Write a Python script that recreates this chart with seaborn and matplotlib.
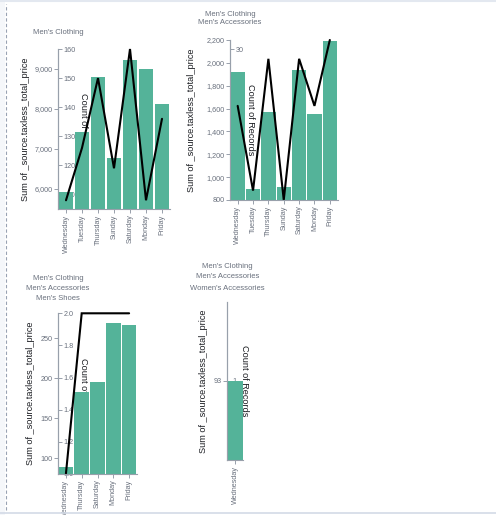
import numpy as np
import pandas as pd
import seaborn as sns
import matplotlib.pyplot as plt
from matplotlib.ticker import FixedLocator, FuncFormatter
from matplotlib.lines import Line2D
from matplotlib.patches import Rectangle

# ---- data ----
days_1 = ['Wednesday', 'Tuesday', 'Thursday', 'Sunday', 'Saturday', 'Monday', 'Friday']
sum_1 = [5930, 7430, 8810, 6780, 9225, 9000, 8120]
count_1 = [108, 126, 150, 119, 160, 108, 136]
title_1 = ["Men's Clothing"]

days_2 = ['Wednesday', 'Tuesday', 'Thursday', 'Sunday', 'Saturday', 'Monday', 'Friday']
sum_2 = [1924, 899, 1568, 916, 1939, 1553, 2191]
count_2 = [24, 15, 29, 14, 29, 24, 31]
title_2 = ["Men's Clothing", "Men's Accessories"]

days_3 = ['Wednesday', 'Thursday', 'Saturday', 'Monday', 'Friday']
sum_3 = [89, 182, 195, 269, 266]
count_3 = [1, 2, 2, 2, 2]
title_3 = ["Men's Clothing", "Men's Accessories", "Men's Shoes"]

days_4 = ['Wednesday']
sum_4 = [93]
count_4 = [1]
title_4 = ["Men's Clothing", "Men's Accessories", "Women's Accessories"]

sum_label = 'Sum of _source.taxless_total_price'
count_label = 'Count of Records'

W, H = 496, 515
GREEN = '#54b399'
AXIS = '#98a0ab'
TICKTXT = '#69707d'

sns.set_theme(style='white')
plt.rcParams['font.family'] = ['Liberation Sans', 'DejaVu Sans']

fig = plt.figure(figsize=(W / 100, H / 100), dpi=100)


def comma(v, pos):
    return '{:,.0f}'.format(v)


def draw_panel(box, days, sums, counts, title, title_ys,
               sum_lim, sum_ticks, cnt_lim, cnt_ticks, cnt_fmt,
               left_off, right_off):
    l, t, r, b = box
    w = r - l
    ax = fig.add_axes([l / W, 1 - b / H, w / W, (b - t) / H])
    ax2 = ax.twinx()
    ax.set_zorder(ax2.get_zorder() + 1)
    ax.patch.set_visible(False)

    df = pd.DataFrame({'day': days, 'sum': sums})
    sns.barplot(data=df, x='day', y='sum', ax=ax, color=GREEN,
                saturation=1, width=0.93, edgecolor='none')
    sns.lineplot(x=np.arange(len(days)), y=counts, ax=ax,
                 transform=ax2.transData, color='black', lw=1.5,
                 solid_joinstyle='miter', clip_on=False)

    ax.set_xlim(-0.5, len(days) - 0.5)
    ax.set_ylim(*sum_lim)
    ax2.set_ylim(*cnt_lim)

    # sum axis
    for s in ['top', 'right']:
        ax.spines[s].set_visible(False)
    for s in ['left', 'bottom']:
        ax.spines[s].set_color(AXIS)
        ax.spines[s].set_linewidth(0.8)
    ax.yaxis.set_major_locator(FixedLocator(sum_ticks))
    ax.yaxis.set_major_formatter(FuncFormatter(comma))
    ax.tick_params(axis='y', left=True, length=3, width=0.7, color=AXIS,
                   labelsize=5.2, labelcolor=TICKTXT, pad=1)
    ax.set_xticks(np.arange(len(days)))
    ax.set_xticklabels(days, rotation=90)
    ax.tick_params(axis='x', bottom=True, length=3, width=0.7, color=AXIS,
                   labelsize=5.2, labelcolor=TICKTXT, pad=1)
    ax.set_xlabel('')
    ax.set_ylabel(sum_label, fontsize=6.6, color='#1a1c21')
    ax.yaxis.set_label_coords(-left_off / w, 0.5)

    # count axis, drawn on the left edge beneath the bars
    for s in ['top', 'left', 'bottom']:
        ax2.spines[s].set_visible(False)
    ax2.spines['right'].set_position(('axes', 0))
    ax2.spines['right'].set_color(AXIS)
    ax2.spines['right'].set_linewidth(0.8)
    ax2.yaxis.set_major_locator(FixedLocator(cnt_ticks))
    ax2.yaxis.set_major_formatter(FuncFormatter(lambda v, p: cnt_fmt.format(v)))
    ax2.tick_params(axis='y', right=True, length=3, width=0.7, color=AXIS,
                    labelsize=5.2, labelcolor=TICKTXT, pad=1)
    ax2.set_ylabel(count_label, fontsize=6.6, color='#1a1c21',
                   rotation=270, va='bottom')
    ax2.yaxis.set_label_coords(right_off / w, 0.5)

    for line, y in zip(title, title_ys):
        fig.text(l / W, 1 - y / H, line, ha='center', va='center',
                 fontsize=5.5, color=TICKTXT)


draw_panel((58, 49, 170, 209), days_1, sum_1, count_1, title_1, [33],
           (5500, 9500), [6000, 7000, 8000, 9000],
           (105, 160), [110, 120, 130, 140, 150, 160], '{:.0f}', 28, 21)

draw_panel((230, 40, 337.5, 200), days_2, sum_2, count_2, title_2, [14, 23],
           (800, 2200), list(range(800, 2201, 200)),
           (14, 31), [15, 20, 25, 30], '{:.0f}', 34, 16)

draw_panel((58, 313.3, 137, 474), days_3, sum_3, count_3, title_3, [278, 288, 298],
           (80, 281), [100, 150, 200, 250],
           (1, 2), [1.0, 1.2, 1.4, 1.6, 1.8, 2.0], '{:.1f}', 23, 21)

draw_panel((227.3, 301.7, 243.3, 460), days_4, sum_4, count_4, title_4, [267, 277, 288],
           (92, 94), [93],
           (0, 2), [1], '{:.0f}', 19, 13)

# page furniture: left gutter with dashed rule, top and bottom borders
fig.add_artist(Rectangle((0, 0), 5 / W, 1, transform=fig.transFigure,
                         color='#f5f7fa', lw=0, zorder=-5))
fig.add_artist(Line2D([6 / W, 6 / W], [5 / H, 1 - 4 / H], transform=fig.transFigure,
                      color='#98a2b3', lw=0.8, ls=(0, (3, 2))))
fig.add_artist(Line2D([0, 1], [1 - 1 / H, 1 - 1 / H], transform=fig.transFigure,
                      color='#e3e8f0', lw=1.5))
fig.add_artist(Line2D([0, 1], [2 / H, 2 / H], transform=fig.transFigure,
                      color='#d3dae6', lw=1.2))

fig.savefig('out.png', dpi=100)
